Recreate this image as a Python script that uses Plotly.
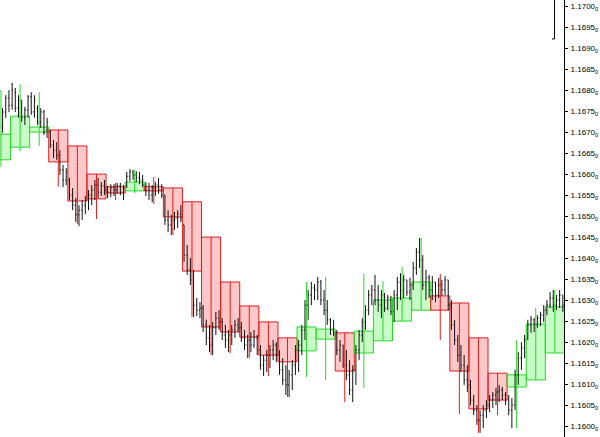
import plotly.graph_objects as go

# ---- small (lower timeframe) OHLC bars, black ----
small_open = [
 1.16625,1.16658,1.16677,1.16711,1.16749,1.16782,1.16765,1.16796,1.16758,1.16777,
 1.16735,1.16754,1.16785,1.16749,1.16758,1.16725,1.16749,1.16706,1.16701,1.16670,
 1.16658,1.16646,1.16611,1.16587,1.16587,1.16551,1.16527,1.16504,1.16515,1.16527,
 1.16539,1.16551,1.16563,1.16575,1.16558,1.16573,1.16563,1.16558,1.16568,1.16563,
 1.16573,1.16558,1.16573,1.16596,1.16606,1.16599,1.16592,1.16587,1.16575,1.16563,
 1.16551,1.16568,1.16575,1.16563,1.16551,1.16492,1.16480,1.16492,1.16496,1.16506,
 1.16480,1.16408,1.16373,1.16349,1.16289,1.16277,1.16282,1.16242,1.16211,1.16194,
 1.16235,1.16258,1.16249,1.16218,1.16206,1.16218,1.16230,1.16242,1.16235,1.16211,
 1.16194,1.16206,1.16194,1.16211,1.16182,1.16146,1.16158,1.16170,1.16182,1.16194,
 1.16170,1.16135,1.16111,1.16099,1.16123,1.16146,1.16182,1.16194,1.16230,1.16289,
 1.16313,1.16330,1.16325,1.16344,1.16301,1.16277,1.16254,1.16230,1.16225,1.16182,
 1.16194,1.16146,1.16123,1.16087,1.16135,1.16182,1.16218,1.16249,1.16277,1.16313,
 1.16325,1.16301,1.16289,1.16313,1.16282,1.16306,1.16273,1.16313,1.16344,1.16325,
 1.16349,1.16320,1.16337,1.16377,1.16415,1.16396,1.16337,1.16354,1.16325,1.16344,
 1.16313,1.16337,1.16325,1.16349,1.16289,1.16242,1.16206,1.16170,1.16146,1.16111,
 1.16099,1.16063,1.16039,1.16015,1.16027,1.16039,1.16051,1.16063,1.16075,1.16082,
 1.16087,1.16075,1.16063,1.16039,1.16051,1.16123,1.16163,1.16187,1.16211,1.16242,
 1.16254,1.16242,1.16258,1.16265,1.16277,1.16289,1.16306,1.16289,1.16301,1.16313,
]
small_high = [
 1.16663,1.16687,1.16730,1.16758,1.16789,1.16801,1.16818,1.16806,1.16789,1.16777,
 1.16761,1.16789,1.16796,1.16789,1.16765,1.16758,1.16754,1.16735,1.16706,1.16682,
 1.16677,1.16658,1.16623,1.16615,1.16592,1.16568,1.16544,1.16527,1.16539,1.16549,
 1.16563,1.16575,1.16587,1.16592,1.16582,1.16587,1.16573,1.16577,1.16577,1.16580,
 1.16580,1.16575,1.16606,1.16613,1.16611,1.16608,1.16606,1.16599,1.16582,1.16580,
 1.16575,1.16582,1.16592,1.16577,1.16551,1.16515,1.16504,1.16511,1.16515,1.16527,
 1.16480,1.16432,1.16401,1.16373,1.16306,1.16296,1.16289,1.16254,1.16242,1.16249,
 1.16273,1.16277,1.16258,1.16242,1.16230,1.16242,1.16254,1.16258,1.16249,1.16230,
 1.16218,1.16225,1.16230,1.16218,1.16194,1.16170,1.16182,1.16194,1.16206,1.16201,
 1.16182,1.16163,1.16146,1.16135,1.16158,1.16194,1.16206,1.16242,1.16301,1.16325,
 1.16344,1.16339,1.16356,1.16349,1.16325,1.16301,1.16258,1.16254,1.16230,1.16206,
 1.16194,1.16182,1.16158,1.16146,1.16194,1.16230,1.16258,1.16289,1.16325,1.16337,
 1.16361,1.16337,1.16325,1.16318,1.16313,1.16311,1.16325,1.16356,1.16365,1.16361,
 1.16349,1.16354,1.16392,1.16425,1.16449,1.16408,1.16373,1.16361,1.16358,1.16344,
 1.16354,1.16349,1.16358,1.16349,1.16301,1.16254,1.16218,1.16194,1.16170,1.16146,
 1.16111,1.16075,1.16051,1.16039,1.16051,1.16063,1.16075,1.16082,1.16092,1.16099,
 1.16094,1.16082,1.16075,1.16068,1.16135,1.16177,1.16201,1.16218,1.16254,1.16263,
 1.16258,1.16265,1.16273,1.16289,1.16301,1.16320,1.16325,1.16313,1.16325,1.16313,
]
small_low = [
 1.16620,1.16639,1.16670,1.16699,1.16735,1.16749,1.16754,1.16749,1.16735,1.16725,
 1.16718,1.16735,1.16742,1.16735,1.16718,1.16711,1.16694,1.16687,1.16663,1.16639,
 1.16635,1.16599,1.16570,1.16575,1.16539,1.16515,1.16487,1.16477,1.16492,1.16506,
 1.16515,1.16527,1.16539,1.16544,1.16549,1.16551,1.16544,1.16546,1.16549,1.16554,
 1.16551,1.16539,1.16568,1.16584,1.16587,1.16582,1.16577,1.16570,1.16549,1.16539,
 1.16534,1.16549,1.16554,1.16544,1.16480,1.16463,1.16456,1.16468,1.16473,1.16487,
 1.16392,1.16361,1.16337,1.16261,1.16263,1.16258,1.16225,1.16194,1.16177,1.16170,
 1.16218,1.16230,1.16206,1.16187,1.16177,1.16194,1.16211,1.16225,1.16201,1.16182,
 1.16163,1.16177,1.16187,1.16170,1.16135,1.16120,1.16130,1.16139,1.16158,1.16154,
 1.16123,1.16099,1.16075,1.16070,1.16087,1.16123,1.16130,1.16170,1.16206,1.16254,
 1.16289,1.16301,1.16301,1.16289,1.16265,1.16242,1.16218,1.16215,1.16170,1.16154,
 1.16139,1.16111,1.16075,1.16058,1.16099,1.16158,1.16201,1.16230,1.16265,1.16289,
 1.16289,1.16273,1.16258,1.16273,1.16277,1.16265,1.16249,1.16277,1.16301,1.16306,
 1.16311,1.16301,1.16325,1.16361,1.16377,1.16325,1.16301,1.16306,1.16301,1.16296,
 1.16306,1.16311,1.16313,1.16277,1.16230,1.16194,1.16154,1.16130,1.16099,1.16082,
 1.16051,1.16027,1.16004,1.15985,1.15996,1.16020,1.16034,1.16044,1.16051,1.16058,
 1.16063,1.16051,1.16027,1.15996,1.16039,1.16099,1.16135,1.16163,1.16206,1.16223,
 1.16225,1.16235,1.16239,1.16249,1.16265,1.16282,1.16273,1.16277,1.16282,1.16273,
]
small_close = [
 1.16658,1.16682,1.16718,1.16749,1.16782,1.16765,1.16801,1.16758,1.16777,1.16735,
 1.16754,1.16785,1.16749,1.16777,1.16725,1.16749,1.16701,1.16725,1.16670,1.16658,
 1.16646,1.16611,1.16587,1.16606,1.16551,1.16527,1.16504,1.16515,1.16527,1.16539,
 1.16551,1.16563,1.16575,1.16558,1.16573,1.16563,1.16558,1.16568,1.16563,1.16573,
 1.16558,1.16568,1.16596,1.16606,1.16599,1.16592,1.16587,1.16575,1.16563,1.16551,
 1.16568,1.16575,1.16563,1.16551,1.16492,1.16480,1.16492,1.16496,1.16506,1.16496,
 1.16408,1.16373,1.16349,1.16289,1.16277,1.16282,1.16242,1.16211,1.16194,1.16235,
 1.16258,1.16249,1.16218,1.16206,1.16218,1.16230,1.16242,1.16235,1.16211,1.16194,
 1.16206,1.16194,1.16211,1.16182,1.16146,1.16158,1.16170,1.16182,1.16194,1.16170,
 1.16135,1.16111,1.16099,1.16123,1.16146,1.16182,1.16194,1.16230,1.16289,1.16313,
 1.16330,1.16325,1.16344,1.16301,1.16277,1.16254,1.16230,1.16225,1.16182,1.16194,
 1.16146,1.16123,1.16087,1.16135,1.16182,1.16218,1.16249,1.16277,1.16313,1.16325,
 1.16301,1.16289,1.16313,1.16282,1.16306,1.16273,1.16313,1.16344,1.16325,1.16349,
 1.16320,1.16337,1.16377,1.16415,1.16396,1.16337,1.16354,1.16325,1.16344,1.16313,
 1.16337,1.16325,1.16349,1.16289,1.16242,1.16206,1.16170,1.16146,1.16111,1.16099,
 1.16063,1.16039,1.16015,1.16027,1.16039,1.16051,1.16063,1.16075,1.16082,1.16087,
 1.16075,1.16063,1.16039,1.16051,1.16123,1.16163,1.16187,1.16206,1.16242,1.16254,
 1.16242,1.16258,1.16265,1.16277,1.16289,1.16306,1.16289,1.16301,1.16313,1.16289,
]

# ---- higher timeframe candles (each spans 6 small bars) ----
big_open  = [1.16635,1.16665,1.16701,1.16706,1.16668,1.16601,1.16571,1.16561,1.16571,1.16568,
             1.16535,1.16451,1.16344,1.16287,1.16249,1.16211,1.16180,1.16208,1.16223,1.16175,
             1.16204,1.16251,1.16277,1.16311,1.16294,1.16211,1.16127,1.16094,1.16111,1.16175]
big_high  = [1.16801,1.16815,1.16796,1.16706,1.16668,1.16601,1.16580,1.16611,1.16594,1.16568,
             1.16535,1.16451,1.16344,1.16287,1.16249,1.16211,1.16344,1.16356,1.16223,1.16363,
             1.16346,1.16380,1.16449,1.16363,1.16294,1.16211,1.16127,1.16206,1.16282,1.16325]
big_low   = [1.16618,1.16656,1.16668,1.16571,1.16482,1.16494,1.16539,1.16556,1.16530,1.16456,
             1.16261,1.16170,1.16175,1.16163,1.16120,1.16070,1.16118,1.16111,1.16058,1.16092,
             1.16204,1.16251,1.16277,1.16206,1.16030,1.15985,1.16027,1.15996,1.16111,1.16175]
big_close = [1.16696,1.16739,1.16713,1.16630,1.16537,1.16542,1.16556,1.16582,1.16561,1.16499,
             1.16370,1.16237,1.16225,1.16213,1.16170,1.16154,1.16237,1.16232,1.16132,1.16227,
             1.16301,1.16306,1.16344,1.16277,1.16132,1.16042,1.16063,1.16123,1.16244,1.16285]
bars_per_big = 6

# price scale labels
tick_values = [round(1.1600 + 0.0005 * k, 4) for k in range(21)]
tick_labels = [f"{v:.4f}<sub>0</sub>" for v in tick_values]

RED_FILL, RED_EDGE = "rgba(255,0,0,0.22)", "rgb(222,30,30)"
GRN_FILL, GRN_EDGE = "rgba(0,240,0,0.22)", "rgb(40,215,40)"

small_x = list(range(len(small_open)))
big_x = [bars_per_big * k + (bars_per_big - 1) / 2 for k in range(len(big_open))]

fig = go.Figure()
fig.add_trace(go.Ohlc(
    x=small_x, open=small_open, high=small_high, low=small_low, close=small_close,
    increasing=dict(line=dict(color="#111", width=1)),
    decreasing=dict(line=dict(color="#111", width=1)),
    tickwidth=0.3, hoverinfo="skip", showlegend=False))

up = [c >= o for o, c in zip(big_open, big_close)]
fig.add_trace(go.Bar(
    x=big_x,
    base=[min(o, c) for o, c in zip(big_open, big_close)],
    y=[abs(c - o) for o, c in zip(big_open, big_close)],
    width=bars_per_big,
    marker=dict(color=[GRN_FILL if u else RED_FILL for u in up],
                line=dict(color=[GRN_EDGE if u else RED_EDGE for u in up], width=1)),
    hoverinfo="skip", showlegend=False))

for want_up, edge in ((True, GRN_EDGE), (False, RED_EDGE)):
    wx, wy = [], []
    for xc, h, l, u in zip(big_x, big_high, big_low, up):
        if u == want_up:
            wx += [xc, xc, None]
            wy += [h, l, None]
    fig.add_trace(go.Scatter(x=wx, y=wy, mode="lines", line=dict(color=edge, width=1),
                             hoverinfo="skip", showlegend=False))

fig.update_layout(
    width=600, height=437,
    margin=dict(l=0, r=36, t=0, b=0, pad=0, autoexpand=False),
    paper_bgcolor="white", plot_bgcolor="white",
    barmode="overlay",
    font=dict(family="Liberation Sans, Arial, sans-serif", size=8, color="black"),
    xaxis=dict(range=[2.19, 179.37], visible=False, rangeslider=dict(visible=False),
               showgrid=False, zeroline=False, automargin=False, fixedrange=True),
    yaxis=dict(range=[1.15975, 1.170155], side="right", showgrid=False, zeroline=False,
               showline=True, linecolor="black", linewidth=1, mirror=False,
               ticks="outside", ticklen=3, tickcolor="black", automargin=False,
               tickvals=tick_values, ticktext=tick_labels, ticklabelstandoff=1,
               tickfont=dict(family="Liberation Sans, Arial, sans-serif", size=8, color="black")),
    shapes=[dict(type="path", xref="paper", yref="paper",
                 path="M 0.9832 1 L 0.9832 0.9108 L 0.9787 0.9108",
                 line=dict(color="black", width=1))],
)

fig.write_html("out.html", config={"displayModeBar": False},
               post_script="document.body.style.margin='0';document.body.style.overflow='hidden';")
